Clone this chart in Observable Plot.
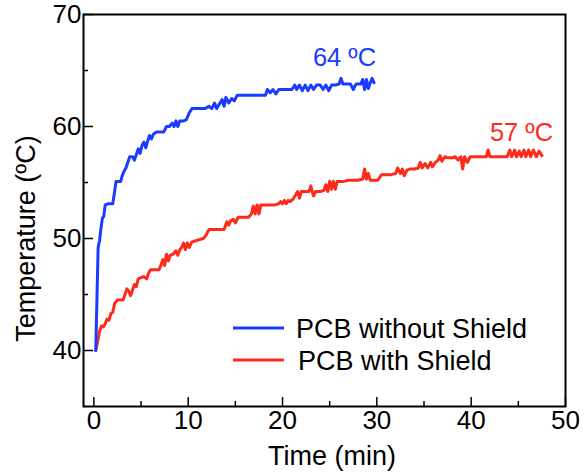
<!DOCTYPE html>
<html>
<head>
<meta charset="utf-8">
<script src="https://cdn.jsdelivr.net/npm/d3@7"></script>
<script src="https://cdn.jsdelivr.net/npm/@observablehq/plot@0.6"></script>
<style>
  html, body { margin: 0; padding: 0; background: #fff; }
  #wrap { position: relative; width: 584px; height: 475px; font-family: "Liberation Sans", Arial, sans-serif; }
  #legend { position: absolute; left: 230px; top: 305px; }
</style>
</head>
<body>
<div id="wrap"></div>
<script>
// ---- data ----
const blueTime = [0.2,0.45,0.6,0.75,0.9,1.05,1.2,1.5,1.8,2.0,2.2,2.35,2.6,2.85,3.0,3.2,3.4,3.6,3.8,4.1,4.3,4.5,4.7,4.9,5.1,5.3,5.5,5.7,5.9,6.1,6.3,6.6,7.0,7.4,7.7,8.0,8.3,8.5,8.7,8.9,9.1,9.5,9.8,10.1,10.4,10.8,11.3,11.8,12.2,12.5,12.8,13.0,13.3,13.6,13.8,14.0,14.3,14.6,14.9,15.2,15.6,16.5,17.5,18.2,18.4,18.7,19.0,19.3,19.6,20.0,20.5,21.0,21.3,21.5,21.8,22.1,22.4,22.7,23.0,23.3,23.6,24.0,24.3,24.6,24.9,25.2,25.6,26.0,26.2,26.4,26.8,27.2,27.5,27.8,28.3,28.5,28.7,28.9,29.1,29.3,29.5,29.7];
const blueTemp = [40.0,49.2,49.8,50.9,51.8,52.0,53.0,53.1,53.1,53.1,54.2,55.1,55.1,55.1,55.6,56.0,56.3,56.8,57.3,57.3,57.0,57.5,58.0,57.6,58.3,58.6,58.1,58.7,59.2,58.9,59.3,59.5,59.5,59.5,60.0,60.0,60.3,60.0,60.5,60.0,60.5,60.5,60.6,61.2,61.6,61.6,61.6,61.6,61.8,61.6,62.1,61.6,62.0,62.4,61.8,62.6,62.1,62.5,62.3,62.8,62.8,62.8,62.8,62.8,63.3,63.0,63.3,62.9,63.3,63.3,63.3,63.3,63.7,63.3,63.7,63.2,63.7,63.2,63.7,63.3,63.7,63.7,63.3,63.7,63.2,63.7,63.7,63.8,64.3,63.8,63.8,63.8,63.3,63.8,63.8,64.2,63.3,64.2,63.4,63.9,64.3,63.9];

const redTime = [0.2,0.4,0.6,0.8,1.0,1.2,1.4,1.6,1.8,2.0,2.2,2.5,2.8,3.1,3.3,3.5,3.7,3.9,4.1,4.3,4.5,4.7,5.0,5.3,5.6,5.8,6.0,6.3,6.6,6.9,7.1,7.3,7.5,7.7,7.9,8.1,8.4,8.7,8.9,9.1,9.3,9.5,9.7,9.9,10.1,10.4,10.8,11.2,11.6,11.9,12.2,12.6,13.2,13.8,14.1,14.3,14.5,14.8,15.0,15.3,15.8,16.4,16.7,16.9,17.1,17.3,17.5,17.7,18.1,18.6,19.2,19.6,19.8,20.0,20.2,20.4,20.6,20.8,21.1,21.4,21.6,21.8,22.0,22.4,22.8,23.0,23.15,23.3,23.5,24.0,24.4,24.6,24.8,25.0,25.2,25.4,25.6,25.8,26.1,26.5,27.0,27.5,28.0,28.5,28.7,28.9,29.1,29.3,29.6,30.1,30.5,31.0,31.5,32.0,32.2,32.5,32.7,32.9,33.2,33.5,34.0,34.4,34.6,34.8,35.1,35.4,35.7,35.9,36.2,36.5,36.7,36.9,37.2,37.6,38.0,38.3,38.6,38.9,39.1,39.3,39.6,39.9,40.4,41.0,41.6,41.8,42.0,42.6,43.2,43.8,44.1,44.3,44.6,44.8,45.1,45.3,45.6,45.8,46.1,46.3,46.6,46.9,47.2,47.5];
const redTemp = [40.0,40.8,41.7,42.2,42.1,42.4,42.8,42.7,43.3,43.4,44.2,44.5,44.5,44.5,45.0,45.5,45.3,44.9,45.4,45.9,45.7,46.4,46.5,46.6,46.4,46.9,47.2,47.2,47.2,47.2,47.6,48.1,47.6,48.6,48.0,48.5,48.6,48.9,48.5,49.0,49.2,49.6,49.0,49.6,49.2,49.7,49.8,49.9,50.0,50.3,50.8,50.8,50.8,50.8,51.5,51.2,51.6,51.7,51.4,51.9,51.9,51.9,52.2,52.9,52.2,53.0,52.2,53.0,53.0,53.0,53.0,53.1,53.3,53.1,53.4,53.1,53.4,53.3,53.5,53.9,54.2,53.6,54.2,54.2,54.2,54.7,54.2,53.8,54.2,54.2,54.3,54.8,54.2,55.1,54.4,55.1,54.4,55.1,55.1,55.1,55.2,55.2,55.2,55.3,56.2,55.3,55.8,55.2,55.2,55.2,55.7,55.7,55.7,55.8,56.3,55.8,56.2,55.6,56.1,56.2,56.2,56.3,56.8,56.3,56.7,56.3,56.8,56.4,56.8,57.0,57.4,56.9,57.3,57.2,57.2,57.3,57.0,57.3,56.2,57.3,56.8,57.3,57.3,57.3,57.3,57.9,57.3,57.3,57.3,57.3,57.9,57.3,57.9,57.3,57.8,57.3,57.9,57.3,57.9,57.3,57.9,57.3,57.8,57.4];

const seriesNames = ["PCB without Shield", "PCB with Shield"];
const seriesColors = ["#1a3cff", "#ff2a1a"];
const finalLabels = ["64 ºC", "57 ºC"];
const xMajor = [0, 10, 20, 30, 40, 50];
const xMinor = [5, 15, 25, 35, 45];
const yMajor = [40, 50, 60, 70];
const yMinor = [45, 55, 65];
const xTitle = "Time (min)";
const yTitle = "Temperature (ºC)";

// ---- build ----
const blue = blueTime.map((t, i) => ({t, T: blueTemp[i]}));
const red = redTime.map((t, i) => ({t, T: redTemp[i]}));

const W = 584, H = 475, mL = 83, mR = 19, mT = 14, mB = 69;
const fw = W - mL - mR, fh = H - mT - mB;
const font = '"Liberation Sans", Arial, sans-serif';

const chart = Plot.plot({
  width: W, height: H,
  marginLeft: mL, marginRight: mR, marginTop: mT, marginBottom: mB,
  style: {fontFamily: font, fontSize: "26px", color: "#000", background: "#fff", overflow: "visible"},
  x: {domain: [-1.1, 50]},
  y: {domain: [35, 70]},
  marks: [
    Plot.axisX({ticks: xMajor, tickSize: 0, tickPadding: 4, label: null, fontSize: 26}),
    Plot.axisY({ticks: yMajor, tickSize: 0, tickPadding: 2, label: null, fontSize: 26}),
    Plot.tickX(xMajor, {x: d => d, insetTop: fh - 9, stroke: "#000", strokeWidth: 1.5}),
    Plot.tickX(xMinor, {x: d => d, insetTop: fh - 5, stroke: "#000", strokeWidth: 1.5}),
    Plot.tickY(yMajor, {y: d => d, insetRight: fw - 10, stroke: "#000", strokeWidth: 1.5}),
    Plot.tickY(yMinor, {y: d => d, insetRight: fw - 5, stroke: "#000", strokeWidth: 1.5}),
    Plot.line(red, {x: "t", y: "T", stroke: seriesColors[1], strokeWidth: 3, strokeLinejoin: "round"}),
    Plot.line(blue, {x: "t", y: "T", stroke: seriesColors[0], strokeWidth: 3, strokeLinejoin: "round"}),
    Plot.frame({stroke: "#000", strokeWidth: 2}),
    Plot.text([finalLabels[0]], {text: d => d, frameAnchor: "top-left", dx: 344 - mL, dy: 57.5 - mT, fill: seriesColors[0], fontSize: 25.5, textAnchor: "middle", lineAnchor: "middle"}),
    Plot.text([finalLabels[1]], {text: d => d, frameAnchor: "top-left", dx: 521 - mL, dy: 132.5 - mT, fill: seriesColors[1], fontSize: 25.5, textAnchor: "middle", lineAnchor: "middle"}),
    Plot.text([xTitle], {text: d => d, frameAnchor: "bottom", dx: 331.5 - (mL + fw / 2), dy: 39, textAnchor: "middle", lineAnchor: "top", fontSize: 27}),
    Plot.text([yTitle], {text: d => d, frameAnchor: "left", rotate: -90, dx: 26 - mL, dy: 238 - (mT + fh / 2), textAnchor: "middle", lineAnchor: "middle", fontSize: 27})
  ]
});

const wrap = document.getElementById("wrap");
wrap.appendChild(chart);

// legend (inside plot area, overlay)
const ns = "http://www.w3.org/2000/svg";
const leg = document.createElementNS(ns, "svg");
leg.setAttribute("id", "legend");
leg.setAttribute("width", 320);
leg.setAttribute("height", 72);
leg.style.fontFamily = font;
seriesNames.forEach((name, i) => {
  const yLine = i === 0 ? 23 : 55;
  const line = document.createElementNS(ns, "line");
  line.setAttribute("x1", 3); line.setAttribute("x2", 54);
  line.setAttribute("y1", yLine); line.setAttribute("y2", yLine);
  line.setAttribute("stroke", seriesColors[i]); line.setAttribute("stroke-width", 3);
  leg.appendChild(line);
  const txt = document.createElementNS(ns, "text");
  txt.setAttribute("x", i === 0 ? 66 : 68);
  txt.setAttribute("y", yLine + 9.5);
  txt.setAttribute("font-size", 27);
  txt.setAttribute("fill", "#000");
  txt.textContent = name;
  leg.appendChild(txt);
});
wrap.appendChild(leg);
</script>
</body>
</html>
